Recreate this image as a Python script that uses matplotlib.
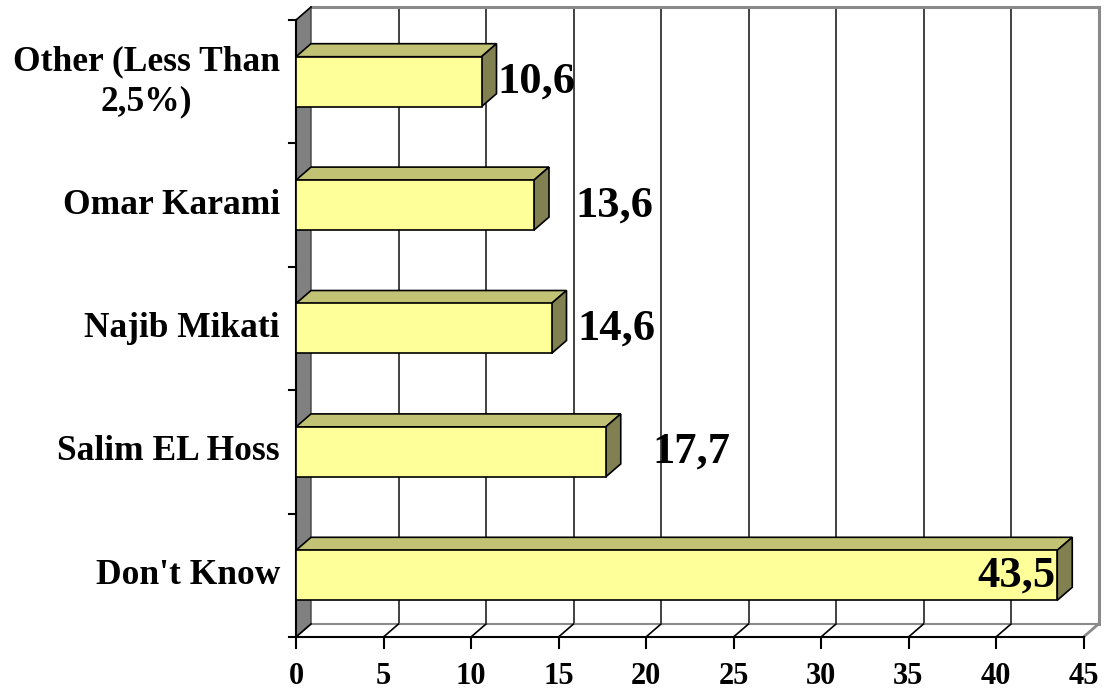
import matplotlib
matplotlib.use("Agg")
import matplotlib.pyplot as plt
from matplotlib.patches import Polygon, Rectangle
from matplotlib.transforms import offset_copy

# ---- data ----
categories = ["Don't Know", "Salim EL Hoss", "Najib Mikati", "Omar Karami",
              "Other (Less Than\n2,5%)"]
values = [43.5, 17.7, 14.6, 13.6, 10.6]
value_labels = ["43,5", "17,7", "14,6", "13,6", "10,6"]
x_ticks = [0, 5, 10, 15, 20, 25, 30, 35, 40, 45]
# small label nudges (pixels) relative to the bar's 3-D end
label_nudge_px = [0, 30, 9, 24, -1]

W, H = 1111, 691
fig = plt.figure(figsize=(W / 100, H / 100), dpi=100)
plt.rcParams['font.family'] = ['Liberation Serif', 'DejaVu Serif']

# front plane in pixels
x0_px, x1_px = 296, 1083.5
y_top_px, y_bot_px = 20, 637
ax = fig.add_axes([x0_px / W, (H - y_bot_px) / H, (x1_px - x0_px) / W,
                   (y_bot_px - y_top_px) / H])
xmax = 45
ncat = len(categories)
ax.set_xlim(0, xmax)
ax.set_ylim(0, ncat)
ax.axis('off')

px_per_x = (x1_px - x0_px) / xmax
px_per_y = (y_bot_px - y_top_px) / ncat
DX = 15 / px_per_x          # depth offset in x data units
DY = 13 / px_per_y          # depth offset in y data units

kw = dict(clip_on=False)
# left wall
ax.add_patch(Polygon([(0, 0), (DX, DY), (DX, ncat + DY), (0, ncat)],
                     closed=True, facecolor='#808080', edgecolor='none', zorder=1, **kw))
ax.plot([0, DX, DX], [0, DY, ncat + DY], color='#404040', lw=1.0, zorder=2, **kw)
# back gridlines
for t in x_ticks[1:-1]:
    ax.plot([t + DX, t + DX], [DY, ncat + DY], color='#333333', lw=1.3, zorder=1, **kw)
# back plane borders (gray)
ax.plot([DX, xmax + DX], [ncat + DY, ncat + DY], color='#8a8a8a', lw=2.2, zorder=1, **kw)
ax.plot([xmax + DX, xmax + DX], [ncat + DY, DY], color='#8a8a8a', lw=2.2, zorder=1, **kw)
ax.plot([xmax + DX, xmax], [DY, 0], color='#8a8a8a', lw=2.0, zorder=1, **kw)
# floor
ax.plot([DX, xmax + DX], [DY, DY], color='#8a8a8a', lw=1.5, zorder=1, **kw)
for t in x_ticks[:-1]:
    ax.plot([t, t + DX], [0, DY], color='black', lw=1.2, zorder=2, **kw)
# top-left diagonal
ax.plot([0, DX], [ncat, ncat + DY], color='black', lw=1.2, zorder=2, **kw)

# axes lines
ax.plot([0, xmax], [0, 0], color='black', lw=1.5, zorder=3, **kw)
ax.plot([0, 0], [0, ncat], color='black', lw=1.5, zorder=3, **kw)
for t in x_ticks:
    ax.plot([t, t], [0, -11 / px_per_y], color='black', lw=1.5, zorder=3, **kw)
tick_len_x = 7 / px_per_x
for i in range(ncat + 1):
    ax.plot([-tick_len_x, 0], [i, i], color='black', lw=1.5, zorder=3, **kw)

# tick labels
for t in x_ticks:
    ax.text(t, -40 / px_per_y, str(t), ha='center', va='center', fontsize=22,
            fontweight='bold', **kw)
for i, c in enumerate(categories):
    ax.text(-16 / px_per_x, i + 0.5, c, ha='right', va='center', fontsize=25.5,
            fontweight='bold', multialignment='center', linespacing=1.3, **kw)

# bars
bh = 50 / px_per_y
front_c, top_c, side_c = '#FFFF99', '#C2C274', '#808050'
for i, v in enumerate(values):
    c = i + 0.5
    lo, hi = c - bh / 2, c + bh / 2
    ax.add_patch(Polygon([(0, hi), (DX, hi + DY), (v + DX, hi + DY), (v, hi)],
                         closed=True, facecolor=top_c, edgecolor='black', lw=1.2,
                         zorder=5, **kw))
    ax.add_patch(Polygon([(v, lo), (v, hi), (v + DX, hi + DY), (v + DX, lo + DY)],
                         closed=True, facecolor=side_c, edgecolor='black', lw=1.2,
                         zorder=5, **kw))
    ax.add_patch(Rectangle((0, lo), v, bh, facecolor=front_c, edgecolor='black',
                           lw=1.2, zorder=6, **kw))

# value labels
for i, (v, lab) in enumerate(zip(values, value_labels)):
    c = i + 0.5
    if v > 40:
        tr = offset_copy(ax.transData, fig=fig, x=-2, y=0, units='dots')
        ax.text(v, c, lab, ha='right', va='center', fontsize=32, fontweight='bold',
                transform=tr, zorder=8, **kw)
    else:
        tr = offset_copy(ax.transData, fig=fig, x=label_nudge_px[i] + 2, y=0, units='dots')
        ax.text(v + DX, c, lab, ha='left', va='center', fontsize=32, fontweight='bold',
                transform=tr, zorder=8, **kw)

fig.savefig('out.png', dpi=100)
